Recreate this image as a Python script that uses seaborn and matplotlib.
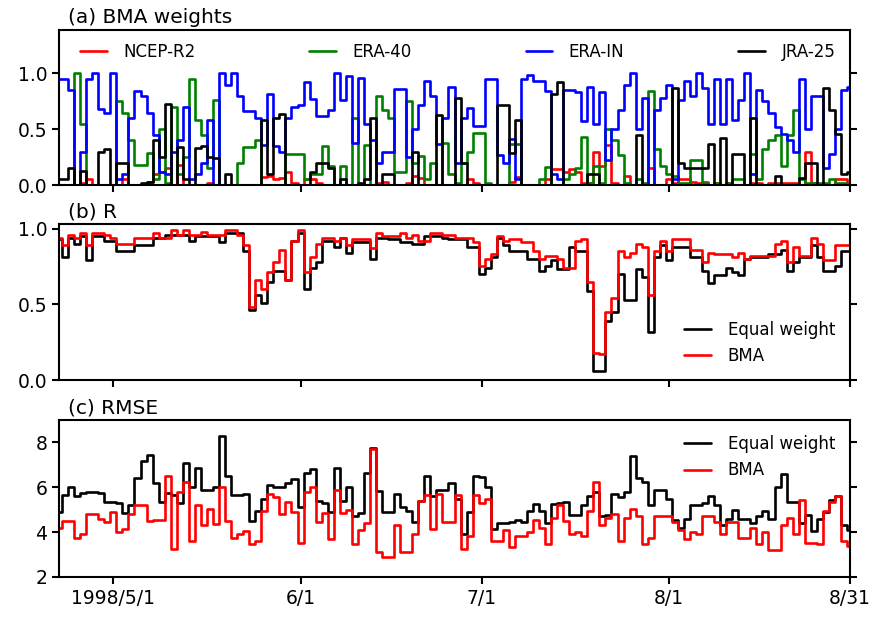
import numpy as np
import pandas as pd
import matplotlib
matplotlib.use("Agg")
import matplotlib.pyplot as plt
import seaborn as sns

dates = pd.date_range("1998-04-22", "1998-08-31", freq="D")

# (a) BMA weights
ncep_r2 = [0, 0, 0, 0, 0.02, 0.05, 0, 0, 0, 0,
           0, 0.05, 0, 0, 0, 0.03, 0.10, 0.12, 0.15, 0,
           0.18, 0, 0, 0, 0, 0.02, 0, 0, 0, 0,
           0, 0, 0, 0, 0.07, 0.08, 0.05, 0.06, 0.12, 0.02,
           0, 0.05, 0.05, 0.02, 0, 0, 0, 0, 0, 0,
           0, 0, 0, 0.02, 0.03, 0, 0, 0, 0.02, 0.08,
           0.06, 0, 0, 0, 0, 0, 0, 0, 0.05, 0.02,
           0, 0, 0, 0, 0, 0.03, 0.07, 0, 0, 0,
           0, 0.05, 0.14, 0.14, 0.12, 0.14, 0.12, 0.02, 0.02, 0.30,
           0.17, 0.36, 0.02, 0, 0.08, 0, 0, 0, 0.15, 0,
           0, 0.05, 0.02, 0.05, 0.05, 0.03, 0.02, 0.03, 0, 0.02,
           0, 0.02, 0, 0, 0, 0.02, 0.02, 0, 0.02, 0.02,
           0.02, 0.02, 0.02, 0, 0.30, 0.02, 0, 0, 0, 0.05,
           0.05, 0]
era_40 = [0, 0, 0, 1.0, 0.55, 0, 0, 0, 0, 0,
          0.75, 0.65, 0.40, 0.18, 0.18, 0.29, 0.05, 0.50, 0.02, 0.70,
          0.10, 0.25, 0.95, 0.58, 0.45, 0.15, 0.76, 0, 0, 0,
          0.20, 0.34, 0.34, 0.40, 0, 0, 0, 0, 0.28, 0.28,
          0.28, 0.05, 0.10, 0.10, 0.35, 0.17, 0, 0.17, 0, 0.60,
          0, 0.36, 0, 0.80, 0.67, 0.60, 0.12, 0.12, 0.75, 0.20,
          0.26, 0.05, 0.20, 0, 0.38, 0.10, 0.02, 0.20, 0.30, 0.47,
          0.47, 0.02, 0, 0, 0, 0.37, 0.37, 0, 0, 0,
          0.05, 0.16, 0, 0, 0.05, 0.10, 0.15, 0.43, 0.02, 0.17,
          0.02, 0.50, 0.40, 0.27, 0.02, 0, 0.05, 0.02, 0.84, 0.32,
          0.17, 0.10, 0.08, 0.02, 0.02, 0.22, 0.22, 0.02, 0, 0.02,
          0, 0.02, 0.05, 0.05, 0, 0.28, 0.05, 0.32, 0.40, 0.45,
          0.17, 0.45, 0.67, 0.05, 0.02, 0.02, 0.02, 0.02, 0.05, 0.02,
          0.02, 0]
era_in = [0.95, 0.95, 0.85, 0.00, 0.30, 0.95, 1.00, 0.68, 0.65, 1.00,
          0.05, 0.10, 0.60, 0.84, 0.80, 0.65, 0.45, 0.12, 0.10, 0.30,
          0.40, 0.70, 0.05, 0.10, 0.20, 0.58, 0.00, 1.00, 0.90, 1.00,
          0.80, 0.66, 0.66, 0.60, 0.36, 0.82, 0.35, 0.30, 0.60, 0.70,
          0.72, 0.92, 0.77, 0.62, 0.62, 0.67, 1.00, 0.76, 0.98, 0.38,
          0.96, 0.55, 0.40, 0.20, 0.30, 0.30, 0.86, 0.86, 0.25, 0.50,
          0.72, 0.93, 0.80, 0.37, 0.60, 0.88, 0.20, 0.60, 0.69, 0.53,
          0.53, 0.95, 0.95, 0.27, 0.20, 0.41, 0.05, 0.95, 0.99, 0.93,
          0.93, 0.84, 0.10, 0.05, 0.85, 0.85, 0.83, 0.57, 0.88, 0.55,
          0.83, 0.22, 0.50, 0.67, 0.90, 1.00, 0.50, 0.78, 0.00, 0.67,
          0.78, 0.90, 0.05, 0.76, 0.93, 0.80, 1.00, 0.87, 0.55, 0.95,
          0.55, 0.95, 0.58, 0.76, 1.00, 0.10, 0.85, 0.75, 0.65, 0.52,
          0.46, 0.40, 0.30, 0.95, 0.50, 0.80, 0.80, 0.15, 0.28, 0.50,
          0.85, 0.88]
jra_25 = [0.05, 0.05, 0.15, 0, 0.13, 0, 0, 0.30, 0.32, 0,
          0.20, 0.20, 0, 0, 0.02, 0.03, 0.40, 0.25, 0.73, 0,
          0.34, 0.05, 0, 0.33, 0.35, 0.25, 0.24, 0, 0.10, 0,
          0, 0, 0, 0, 0.58, 0.10, 0.60, 0.64, 0, 0,
          0, 0, 0.12, 0.20, 0.20, 0.15, 0, 0.05, 0, 0,
          0.02, 0.05, 0.60, 0, 0.10, 0.10, 0, 0, 0, 0.30,
          0, 0, 0, 0.63, 0, 0, 0.78, 0.20, 0, 0,
          0, 0, 0, 0.72, 0.72, 0.29, 0.58, 0, 0, 0,
          0, 0, 0.82, 0.92, 0, 0, 0, 0, 0.10, 0.10,
          0, 0, 0, 0, 0, 0, 0.45, 0, 0, 0,
          0, 0, 0.87, 0.20, 0.15, 0.15, 0.15, 0.15, 0.37, 0,
          0.42, 0, 0.28, 0.28, 0, 0.60, 0, 0, 0, 0.08,
          0, 0, 0, 0.06, 0.20, 0.20, 0, 0.87, 0.67, 0.46,
          0.10, 0.12]

# (b) R
r_equal = [0.93, 0.81, 0.94, 0.90, 0.95, 0.79, 0.95, 0.95, 0.92, 0.92,
           0.85, 0.85, 0.85, 0.89, 0.89, 0.89, 0.94, 0.94, 0.96, 0.96,
           0.96, 0.96, 0.92, 0.95, 0.95, 0.95, 0.95, 0.91, 0.97, 0.97,
           0.97, 0.85, 0.46, 0.56, 0.51, 0.65, 0.72, 0.72, 0.66, 0.92,
           0.97, 0.60, 0.74, 0.78, 0.92, 0.92, 0.88, 0.94, 0.84, 0.91,
           0.91, 0.91, 0.80, 0.94, 0.94, 0.93, 0.93, 0.91, 0.91, 0.90,
           0.90, 0.95, 0.95, 0.95, 0.94, 0.93, 0.93, 0.93, 0.88, 0.88,
           0.70, 0.74, 0.81, 0.94, 0.89, 0.85, 0.85, 0.85, 0.80, 0.80,
           0.72, 0.75, 0.79, 0.73, 0.73, 0.88, 0.85, 0.85, 0.59, 0.06,
           0.06, 0.39, 0.45, 0.70, 0.53, 0.53, 0.73, 0.68, 0.32, 0.81,
           0.89, 0.79, 0.88, 0.88, 0.88, 0.81, 0.81, 0.72, 0.64, 0.69,
           0.69, 0.74, 0.71, 0.69, 0.80, 0.81, 0.81, 0.81, 0.83, 0.83,
           0.86, 0.72, 0.78, 0.81, 0.81, 0.89, 0.81, 0.72, 0.72, 0.75,
           0.85, 0.85]
r_bma = [0.94, 0.89, 0.96, 0.94, 0.97, 0.89, 0.97, 0.97, 0.96, 0.94,
         0.90, 0.90, 0.90, 0.94, 0.94, 0.94, 0.97, 0.94, 0.94, 0.99,
         0.96, 0.99, 0.96, 0.96, 0.98, 0.96, 0.96, 0.96, 0.99, 0.99,
         0.96, 0.89, 0.48, 0.66, 0.60, 0.71, 0.78, 0.86, 0.66, 0.92,
         0.99, 0.71, 0.81, 0.90, 0.94, 0.94, 0.92, 0.94, 0.89, 0.93,
         0.93, 0.93, 0.87, 0.97, 0.95, 0.95, 0.95, 0.97, 0.94, 0.96,
         0.92, 0.92, 0.97, 0.97, 0.96, 0.96, 0.94, 0.94, 0.94, 0.91,
         0.75, 0.80, 0.83, 0.95, 0.92, 0.93, 0.93, 0.91, 0.91, 0.85,
         0.80, 0.82, 0.82, 0.80, 0.74, 0.74, 0.92, 0.93, 0.65, 0.18,
         0.17, 0.45, 0.54, 0.85, 0.81, 0.84, 0.90, 0.88, 0.56, 0.85,
         0.92, 0.85, 0.93, 0.93, 0.93, 0.86, 0.86, 0.78, 0.84, 0.83,
         0.83, 0.83, 0.81, 0.84, 0.80, 0.82, 0.82, 0.82, 0.82, 0.90,
         0.92, 0.78, 0.88, 0.82, 0.82, 0.94, 0.90, 0.79, 0.79, 0.89,
         0.89, 0.89]

# (c) RMSE
rmse_equal = [4.9, 5.65, 6.0, 5.6, 5.75, 5.8, 5.8, 5.75, 5.35, 5.35,
              5.3, 4.85, 5.2, 6.4, 7.15, 7.45, 6.2, 5.35, 5.75, 5.65,
              5.3, 7.1, 6.0, 6.85, 5.9, 5.9, 6.0, 8.3, 6.5, 5.65,
              5.65, 5.7, 4.5, 4.95, 5.5, 6.1, 6.0, 6.0, 6.2, 6.35,
              5.1, 6.65, 6.8, 5.4, 5.3, 4.9, 6.85, 5.4, 6.0, 4.7,
              4.85, 6.65, 7.75, 5.85, 4.9, 4.9, 5.7, 5.1, 4.95, 4.45,
              5.4, 6.5, 5.6, 5.9, 5.9, 6.2, 5.5, 3.9, 4.9, 6.5,
              6.45, 6.0, 4.15, 4.4, 4.4, 4.45, 4.55, 4.45, 4.95, 5.25,
              4.95, 4.4, 5.25, 5.3, 5.35, 4.75, 4.75, 5.2, 5.6, 5.8,
              4.7, 4.75, 5.7, 5.55, 5.8, 7.4, 6.4, 6.25, 5.2, 5.9,
              5.9, 5.5, 4.55, 4.2, 4.6, 5.2, 5.2, 5.3, 5.6, 5.2,
              4.3, 4.6, 5.0, 4.6, 4.6, 4.4, 4.7, 4.95, 4.6, 6.0,
              6.6, 5.35, 5.35, 4.4, 4.75, 4.05, 4.6, 4.9, 5.45, 5.6,
              4.3, 4.1]
rmse_bma = [4.2, 4.5, 4.5, 3.75, 3.9, 4.8, 4.8, 4.6, 4.45, 4.9,
            4.0, 4.15, 4.8, 5.2, 5.2, 4.5, 4.55, 4.55, 6.5, 3.25,
            5.8, 6.25, 3.6, 5.2, 4.3, 5.05, 4.35, 6.0, 4.5, 3.75,
            3.9, 4.05, 3.45, 3.6, 4.95, 5.7, 5.55, 4.8, 5.35, 4.9,
            3.5, 5.8, 6.0, 4.45, 4.85, 3.7, 5.9, 4.85, 5.0, 3.45,
            4.1, 4.4, 7.7, 3.1, 2.9, 2.9, 4.3, 3.1, 3.1, 3.9,
            5.4, 5.65, 4.15, 5.7, 4.45, 4.45, 5.65, 3.25, 3.85, 5.65,
            5.3, 5.5, 3.6, 3.6, 4.1, 3.35, 3.85, 3.85, 4.0, 4.55,
            4.2, 3.45, 4.65, 5.2, 4.5, 3.9, 4.0, 3.85, 4.95, 6.25,
            4.3, 4.65, 4.8, 3.6, 4.65, 5.05, 4.7, 3.45, 3.75, 4.7,
            4.7, 4.7, 4.45, 4.1, 3.7, 4.0, 3.9, 4.7, 4.7, 4.45,
            3.9, 4.45, 4.45, 3.75, 3.75, 4.2, 3.45, 4.0, 3.2, 3.2,
            4.3, 4.65, 3.9, 5.45, 3.5, 3.5, 3.45, 4.95, 5.35, 5.6,
            3.6, 3.4]

tick_dates = ["1998-05-01", "1998-06-01", "1998-07-01", "1998-08-01", "1998-08-31"]
tick_labels = ["1998/5/1", "6/1", "7/1", "8/1", "8/31"]

for arr in [ncep_r2, era_40, era_in, jra_25, r_equal, r_bma, rmse_equal, rmse_bma]:
    assert len(arr) == len(dates), len(arr)

sns.set_style("ticks")
plt.rcParams["font.family"] = ["DejaVu Sans"]
plt.rcParams.update({"text.color": "black", "axes.edgecolor": "black",
                     "axes.labelcolor": "black", "xtick.color": "black",
                     "ytick.color": "black"})

fig = plt.figure(figsize=(8.75, 6.17), dpi=100)
L, W = 59 / 875, 791 / 875


def box(top, bottom):
    return [L, 1 - bottom / 617, W, (bottom - top) / 617]


ax_a = fig.add_axes(box(30, 185))
ax_b = fig.add_axes(box(224, 380))
ax_c = fig.add_axes(box(420, 577))

lw = 1.9
wdf = pd.DataFrame({"date": dates, "NCEP-R2": ncep_r2, "ERA-40": era_40,
                    "ERA-IN": era_in, "JRA-25": jra_25}).melt("date", var_name="src", value_name="v")
sns.lineplot(data=wdf, x="date", y="v", hue="src",
             hue_order=["NCEP-R2", "ERA-40", "ERA-IN", "JRA-25"],
             palette=["#ff0000", "#008000", "#0000ff", "#000000"],
             drawstyle="steps-mid", linewidth=lw, ax=ax_a)

rdf = pd.DataFrame({"date": dates, "Equal weight": r_equal, "BMA": r_bma}).melt("date", var_name="src", value_name="v")
sns.lineplot(data=rdf, x="date", y="v", hue="src", hue_order=["Equal weight", "BMA"],
             palette=["#000000", "#ff0000"], drawstyle="steps-mid", linewidth=lw, ax=ax_b)

edf = pd.DataFrame({"date": dates, "Equal weight": rmse_equal, "BMA": rmse_bma}).melt("date", var_name="src", value_name="v")
sns.lineplot(data=edf, x="date", y="v", hue="src", hue_order=["Equal weight", "BMA"],
             palette=["#000000", "#ff0000"], drawstyle="steps-mid", linewidth=lw, ax=ax_c)


def relegend(ax, **kw):
    old = ax.get_legend()
    handles = old.legend_handles
    labels = [t.get_text() for t in old.get_texts()]
    old.remove()
    for h in handles:
        h.set_linewidth(lw)
    ax.legend(handles, labels, frameon=False, fontsize=12, handlelength=1.6,
              handletextpad=1.0, **kw)


relegend(ax_a, ncol=4, mode="expand", loc="center",
         bbox_to_anchor=(0.018, 0.76, 0.972, 0.2), borderaxespad=0)
relegend(ax_b, loc="lower right")
relegend(ax_c, loc="upper right")

ax_a.set_ylim(0, 1.39)
ax_a.set_yticks([0, 0.5, 1.0])
ax_b.set_ylim(0, 1.03)
ax_b.set_yticks([0, 0.5, 1.0])
ax_c.set_ylim(2, 9)
ax_c.set_yticks([2, 4, 6, 8])

titles = ["(a) BMA weights", "(b) R", "(c) RMSE"]
for ax, t in zip([ax_a, ax_b, ax_c], titles):
    ax.set_xlim(dates[0], dates[-1])
    ax.set_xticks(pd.to_datetime(tick_dates))
    ax.set_xlabel("")
    ax.set_ylabel("")
    ax.tick_params(axis="both", direction="out", length=5, width=1.5,
                   labelsize=13.5, right=True, colors="black")
    for s in ax.spines.values():
        s.set_linewidth(1.5)
        s.set_color("black")
    ax.text(0.011, 1.018, t, transform=ax.transAxes, fontsize=14.5,
            ha="left", va="bottom", color="black")

ax_a.set_xticklabels([])
ax_b.set_xticklabels([])
ax_c.set_xticklabels(tick_labels)

fig.savefig("out.png", dpi=100)
